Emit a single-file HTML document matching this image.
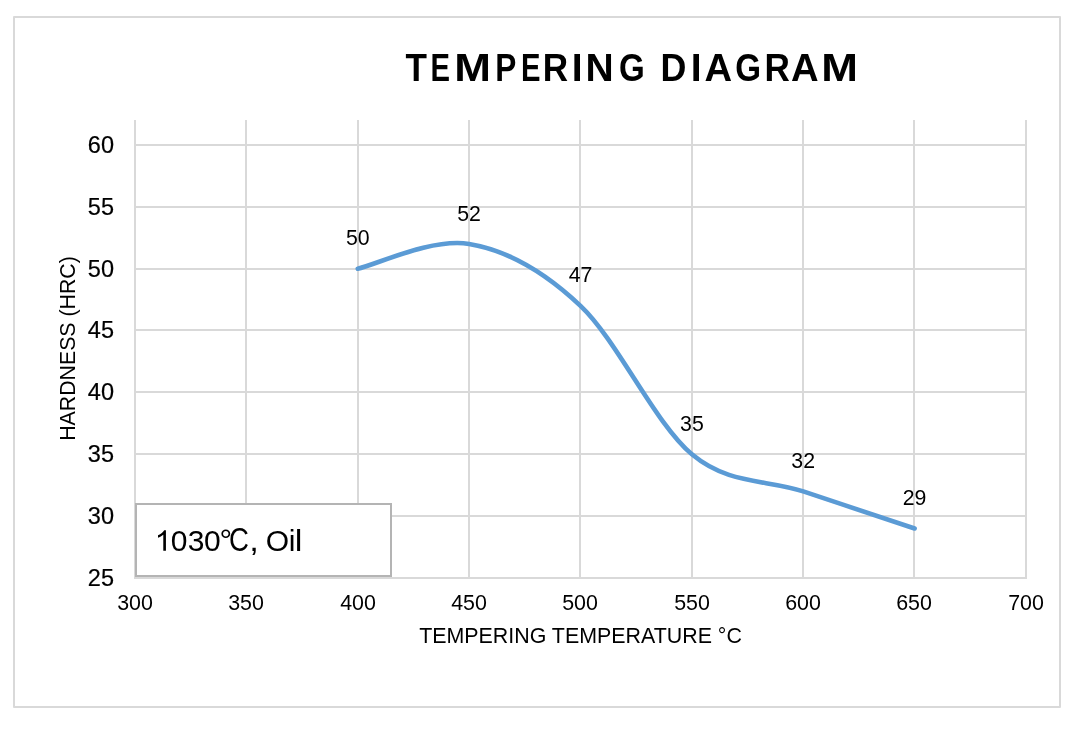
<!DOCTYPE html>
<html><head><meta charset="utf-8"><style>
html,body{margin:0;padding:0;background:#fff;}
svg{display:block;will-change:transform;}
text{font-family:"Liberation Sans",sans-serif;fill:#000;stroke:#000;stroke-linejoin:round;}
</style></head><body>
<svg width="1082" height="734" viewBox="0 0 1082 734">
<rect x="0" y="0" width="1082" height="734" fill="#fff"/>
<rect x="14" y="17" width="1046" height="690" fill="#fff" stroke="#d9d9d9" stroke-width="2" stroke-linejoin="round"/>
<g style="font-weight:bold;font-size:39px;stroke-width:0px" text-anchor="middle">
<text transform="translate(416.30,80.7) scale(0.9,1)">T</text>
<text transform="translate(440.25,80.7) scale(0.75,1)">E</text>
<text transform="translate(472.65,80.7) scale(1.13,1)">M</text>
<text transform="translate(505.69,80.7) scale(0.81,1)">P</text>
<text transform="translate(530.70,80.7) scale(0.75,1)">E</text>
<text transform="translate(555.50,80.7) scale(0.9,1)">R</text>
<text transform="translate(577.10,80.7) scale(1.0,1)">I</text>
<text transform="translate(599.70,80.7) scale(1.0,1)">N</text>
<text transform="translate(631.88,80.7) scale(0.85,1)">G</text>
<text transform="translate(673.48,80.7) scale(0.92,1)">D</text>
<text transform="translate(696.20,80.7) scale(1.0,1)">I</text>
<text transform="translate(718.20,80.7) scale(0.98,1)">A</text>
<text transform="translate(748.02,80.7) scale(0.85,1)">G</text>
<text transform="translate(777.15,80.7) scale(0.9,1)">R</text>
<text transform="translate(804.70,80.7) scale(0.98,1)">A</text>
<text transform="translate(839.65,80.7) scale(1.13,1)">M</text>
</g>
<g stroke="#d9d9d9" stroke-width="2" fill="none">
<line x1="135" y1="120" x2="135" y2="578"/>
<line x1="246" y1="120" x2="246" y2="578"/>
<line x1="358" y1="120" x2="358" y2="578"/>
<line x1="469" y1="120" x2="469" y2="578"/>
<line x1="580" y1="120" x2="580" y2="578"/>
<line x1="692" y1="120" x2="692" y2="578"/>
<line x1="803" y1="120" x2="803" y2="578"/>
<line x1="914" y1="120" x2="914" y2="578"/>
<line x1="1026" y1="120" x2="1026" y2="578"/>
<line x1="134" y1="145" x2="1027" y2="145"/>
<line x1="134" y1="207" x2="1027" y2="207"/>
<line x1="134" y1="269" x2="1027" y2="269"/>
<line x1="134" y1="330" x2="1027" y2="330"/>
<line x1="134" y1="392" x2="1027" y2="392"/>
<line x1="134" y1="454" x2="1027" y2="454"/>
<line x1="134" y1="516" x2="1027" y2="516"/>
<line x1="134" y1="578" x2="1027" y2="578"/>
</g>
<g style="font-size:23.5px;stroke-width:0.2px">
<text x="114" y="153.4" text-anchor="end">60</text>
<text x="114" y="215.4" text-anchor="end">55</text>
<text x="114" y="277.4" text-anchor="end">50</text>
<text x="114" y="338.4" text-anchor="end">45</text>
<text x="114" y="400.4" text-anchor="end">40</text>
<text x="114" y="462.4" text-anchor="end">35</text>
<text x="114" y="524.4" text-anchor="end">30</text>
<text x="114" y="586.4" text-anchor="end">25</text>
</g>
<g style="font-size:21.4px;stroke-width:0px">
<text x="135" y="609.6" text-anchor="middle">300</text>
<text x="246" y="609.6" text-anchor="middle">350</text>
<text x="358" y="609.6" text-anchor="middle">400</text>
<text x="469" y="609.6" text-anchor="middle">450</text>
<text x="580" y="609.6" text-anchor="middle">500</text>
<text x="692" y="609.6" text-anchor="middle">550</text>
<text x="803" y="609.6" text-anchor="middle">600</text>
<text x="914" y="609.6" text-anchor="middle">650</text>
<text x="1026" y="609.6" text-anchor="middle">700</text>
</g>
<text x="580.5" y="643.1" text-anchor="middle" style="font-size:21.4px;stroke-width:0px">TEMPERING TEMPERATURE °C</text>
<text transform="translate(75.1,348.5) rotate(-90)" x="0" y="0" text-anchor="middle" style="font-size:21.3px;stroke-width:0px">HARDNESS (HRC)</text>
<path d="M357.75,268.72 C376.31,264.59 432.00,237.79 469.12,243.97 C506.25,250.16 543.38,270.78 580.50,305.83 C617.62,340.88 654.75,423.36 691.88,454.29 C729.00,485.21 766.12,479.03 803.25,491.40 C840.38,503.77 896.06,522.33 914.62,528.51" fill="none" stroke="#5b9bd5" stroke-width="4.6" stroke-linecap="round" stroke-linejoin="round"/>
<g style="font-size:21.3px;stroke-width:0px">
<text x="357.8" y="245.3" text-anchor="middle">50</text>
<text x="469.1" y="220.6" text-anchor="middle">52</text>
<text x="580.5" y="282.4" text-anchor="middle">47</text>
<text x="691.9" y="430.9" text-anchor="middle">35</text>
<text x="803.2" y="468.0" text-anchor="middle">32</text>
<text x="914.6" y="505.1" text-anchor="middle">29</text>
</g>
<rect x="136" y="504" width="255" height="72" fill="#fff" stroke="#b4b4b4" stroke-width="2"/>
<path transform="translate(154.748,550.8) scale(0.01465,-0.01399)" d="M763,0 L583,0 L583,1147 Q518,1085 412,1023 Q306,961 222,930 L222,1104 Q373,1175 486,1276 Q599,1377 646,1472 L763,1472 Z" fill="#000" stroke="#000" stroke-width="0.0" stroke-linejoin="round"/>
<g style="font-size:30px;stroke-width:0.0px"><text transform="translate(170.80,550.80) scale(1,1)" style="stroke-width:0.0px">0</text><text transform="translate(187.80,550.80) scale(1,1)" style="stroke-width:0.0px">3</text><text transform="translate(204.10,550.80) scale(1,1)" style="stroke-width:0.0px">0</text><text transform="translate(219.40,549.60) scale(1.05,1.0)" style="stroke-width:0.0px">°</text><text transform="translate(229.10,550.80) scale(0.92,1.08)" style="stroke-width:0.0px">C</text><text transform="translate(249.20,550.80) scale(1.15,1.0)" style="stroke-width:0.0px">,</text><text transform="translate(265.70,550.80) scale(1,1)" style="stroke-width:0.0px">O</text><text transform="translate(288.80,550.80) scale(1,0.955)" style="stroke-width:0.0px">i</text><text transform="translate(294.70,550.80) scale(1.15,0.955)" style="stroke-width:0.0px">l</text></g>
</svg>
</body></html>
